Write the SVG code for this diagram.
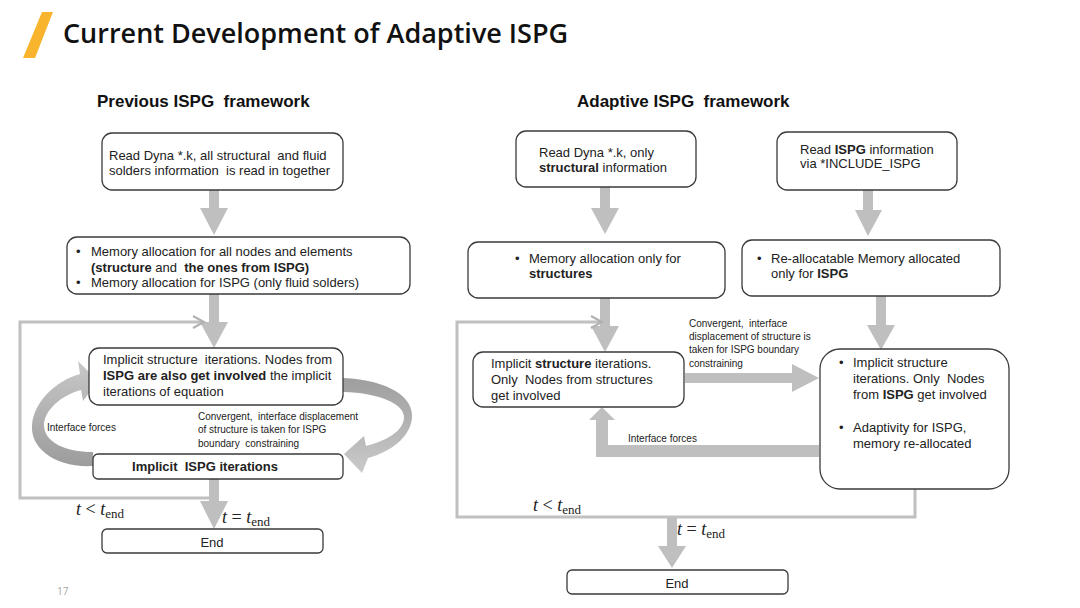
<svg xmlns="http://www.w3.org/2000/svg" width="1080" height="608" viewBox="0 0 1080 608">
<style>
.box{fill:#fff;stroke:#3a3a3a;stroke-width:1.3}
.t{font-family:"Liberation Sans",Arial,sans-serif;font-size:13px;fill:#222;white-space:pre}
.s{font-family:"Liberation Sans",Arial,sans-serif;font-size:10px;fill:#222;white-space:pre}
.b{font-weight:bold}
.h{font-family:"Liberation Sans",Arial,sans-serif;font-size:17px;font-weight:bold;fill:#111;white-space:pre}
.m{font-family:"Liberation Serif","Times New Roman",serif;font-size:18px;fill:#222}
.arr{fill:#bfbfbf}
.loop{fill:none;stroke:#c0c0c0;stroke-width:3}
.tip{fill:none;stroke:#b0b0b0;stroke-width:2}
</style>
<defs>
<linearGradient id="gl" x1="0" y1="0" x2="0" y2="1">
<stop offset="0" stop-color="#c8c8c8"/><stop offset="1" stop-color="#9c9c9c"/>
</linearGradient>
<linearGradient id="gr" x1="0" y1="0" x2="0" y2="1">
<stop offset="0" stop-color="#9e9e9e"/><stop offset="1" stop-color="#cacaca"/>
</linearGradient>
</defs>
<rect width="1080" height="608" fill="#fff"/>
<g id="title">
<polygon points="42,12 53,12 35,58 23,58" fill="#f7b42c"/>
<text x="63" y="43" font-family="'Open Sans','Noto Sans',sans-serif" font-size="27" font-weight="600" fill="#111">Current Development of Adaptive ISPG</text>
</g>
<text x="97" y="107" class="h" xml:space="preserve">Previous ISPG  framework</text>
<text x="577" y="107" class="h" xml:space="preserve">Adaptive ISPG  framework</text>
<text x="57" y="595" font-family="'Open Sans',sans-serif" font-size="10" fill="#a6a6a6">17</text>

<g id="connectors">
<polygon class="arr" points="209,190 219,190 219,208 228,208 214,235 200,208 209,208"/>
<polygon class="arr" points="209,294 219,294 219,322 228,322 214,348 200,322 209,322"/>
<polygon class="arr" points="209,479 219,479 219,501 228,501 214,529 200,501 209,501"/>
<path class="loop" d="M203,322 L20,322 L20,498 L212,498"/>
<path class="tip" d="M193,316 L204,322 L193,328"/>
<path fill="url(#gl)" d="M93,466 C55,468 30,448 32,425 C34,402 55,381 80,374 L78,361 L98,381 L83,401 L81,390 C62,395 44,410 44,425 C44,442 65,452 93,452 Z"/>
<path fill="url(#gr)" d="M343,378 C390,380 414,398 412,418 C410,438 390,452 368,458 L362,473 L344,454 L364,436 L366,446 C385,441 403,432 404,418 C405,404 380,393 343,392 Z"/>
<polygon class="arr" points="600,187 610,187 610,208 619,208 605,234 591,208 600,208"/>
<polygon class="arr" points="863,190 873,190 873,210 882,210 868,236 855,210 863,210"/>
<polygon class="arr" points="600,298 610,298 610,326 619,326 605,352 591,326 600,326"/>
<polygon class="arr" points="876,296 886,296 886,325 895,325 881,350 867,325 876,325"/>
<polygon class="arr" points="685,373 792,373 792,364 819,378 792,392 792,383 685,383"/>
<polygon class="arr" points="819,445 608,445 608,420 615,420 602,407 589,420 596,420 596,457 819,457"/>
<path class="loop" d="M915,489 L915,517 L457,517 L457,322 L600,322"/>
<path class="tip" d="M591,316 L602,322 L591,328"/>
<polygon class="arr" points="667,517 677,517 677,546 686,546 672,568 658,546 667,546"/>
</g>

<g id="n1">
<rect class="box" x="102" y="133" width="241" height="57" rx="10"/>
<text class="t" x="109" y="160" xml:space="preserve">Read Dyna *.k, all structural  and fluid</text>
<text class="t" x="109" y="175" xml:space="preserve">solders information  is read in together</text>
</g>
<g id="n2">
<rect class="box" x="67" y="237" width="343" height="57" rx="10"/>
<text class="t" x="76" y="256">•</text>
<text class="t" x="91" y="256">Memory allocation for all nodes and elements</text>
<text class="t" x="91" y="272" xml:space="preserve"><tspan class="b">(structure</tspan> and  <tspan class="b">the ones from ISPG)</tspan></text>
<text class="t" x="76" y="287">•</text>
<text class="t" x="91" y="287">Memory allocation for ISPG (only fluid solders)</text>
</g>
<g id="n3">
<rect class="box" x="89" y="348" width="254" height="57" rx="10"/>
<text class="t" x="103" y="364" xml:space="preserve">Implicit structure  iterations. Nodes from</text>
<text class="t" x="103" y="380" xml:space="preserve"><tspan class="b">ISPG are also get involved</tspan> the implicit</text>
<text class="t" x="103" y="396">iterations of equation</text>
</g>
<g id="n4">
<rect class="box" x="93" y="454" width="250" height="25" rx="5"/>
<text class="t b" x="205" y="471" text-anchor="middle" xml:space="preserve">Implicit  ISPG iterations</text>
</g>
<g id="n5">
<rect class="box" x="102" y="529" width="221" height="24" rx="5"/>
<text class="t" x="212" y="547" text-anchor="middle">End</text>
</g>
<g id="left-labels">
<text class="s" x="47" y="431">Interface forces</text>
<text class="s" x="198" y="420" xml:space="preserve">Convergent,  interface displacement</text>
<text class="s" x="198" y="433">of structure is taken for ISPG</text>
<text class="s" x="198" y="447" xml:space="preserve">boundary  constraining</text>
<text class="m" x="76" y="515"><tspan font-style="italic">t</tspan> &lt; <tspan font-style="italic">t</tspan><tspan font-size="13" dy="3">end</tspan></text>
<text class="m" x="222" y="523"><tspan font-style="italic">t</tspan> = <tspan font-style="italic">t</tspan><tspan font-size="13" dy="3">end</tspan></text>
</g>

<g id="a1">
<rect class="box" x="516" y="131" width="180" height="56" rx="10"/>
<text class="t" x="539" y="157">Read Dyna *.k, only</text>
<text class="t" x="539" y="172"><tspan class="b">structural</tspan> information</text>
</g>
<g id="a2">
<rect class="box" x="777" y="132" width="180" height="58" rx="10"/>
<text class="t" x="800" y="154"><tspan>Read </tspan><tspan class="b">ISPG</tspan><tspan> information</tspan></text>
<text class="t" x="800" y="168">via *INCLUDE_ISPG</text>
</g>
<g id="a3">
<rect class="box" x="468" y="242" width="257" height="56" rx="10"/>
<text class="t" x="515" y="263">•</text>
<text class="t" x="529" y="263">Memory allocation only for</text>
<text class="t b" x="529" y="278">structures</text>
</g>
<g id="a4">
<rect class="box" x="742" y="240" width="258" height="56" rx="10"/>
<text class="t" x="757" y="263">•</text>
<text class="t" x="771" y="263">Re-allocatable Memory allocated</text>
<text class="t" x="771" y="278"><tspan>only for </tspan><tspan class="b">ISPG</tspan></text>
</g>
<g id="a5">
<rect class="box" x="473" y="352" width="211" height="55" rx="10"/>
<text class="t" x="491" y="368"><tspan>Implicit </tspan><tspan class="b">structure</tspan><tspan> iterations.</tspan></text>
<text class="t" x="491" y="384" xml:space="preserve">Only  Nodes from structures</text>
<text class="t" x="491" y="400">get involved</text>
</g>
<g id="a6">
<rect class="box" x="820" y="349" width="189" height="140" rx="20"/>
<text class="t" x="839" y="367">•</text>
<text class="t" x="853" y="367">Implicit structure</text>
<text class="t" x="853" y="383" xml:space="preserve">iterations. Only  Nodes</text>
<text class="t" x="853" y="399"><tspan>from </tspan><tspan class="b">ISPG</tspan><tspan> get involved</tspan></text>
<text class="t" x="839" y="432">•</text>
<text class="t" x="853" y="432">Adaptivity for ISPG,</text>
<text class="t" x="853" y="448">memory re-allocated</text>
</g>
<g id="a7">
<rect class="box" x="567" y="570" width="221" height="24" rx="5"/>
<text class="t" x="677" y="588" text-anchor="middle">End</text>
</g>
<g id="right-labels">
<text class="s" x="689" y="327" xml:space="preserve">Convergent,  interface</text>
<text class="s" x="689" y="340">displacement of structure is</text>
<text class="s" x="689" y="353">taken for ISPG boundary</text>
<text class="s" x="689" y="367">constraining</text>
<text class="s" x="628" y="442">Interface forces</text>
<text class="m" x="533" y="511"><tspan font-style="italic">t</tspan> &lt; <tspan font-style="italic">t</tspan><tspan font-size="13" dy="3">end</tspan></text>
<text class="m" x="677" y="535"><tspan font-style="italic">t</tspan> = <tspan font-style="italic">t</tspan><tspan font-size="13" dy="3">end</tspan></text>
</g>
</svg>
